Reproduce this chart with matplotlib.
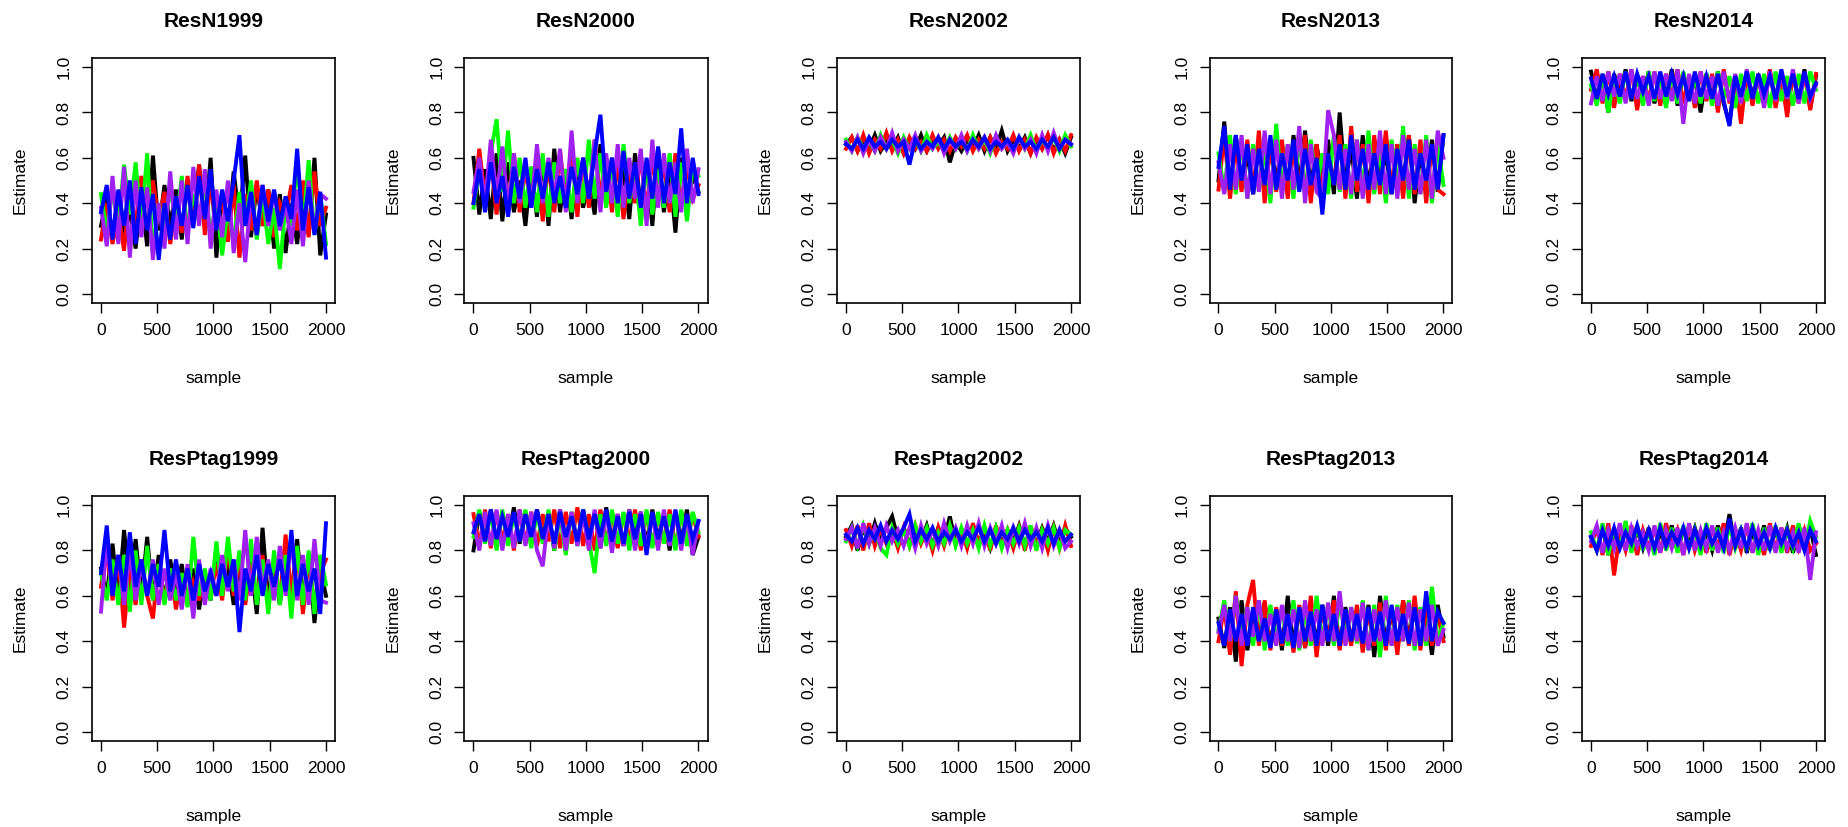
import numpy as np
import matplotlib
matplotlib.use("Agg")
import matplotlib.pyplot as plt

plt.rcParams['font.family'] = ['Liberation Sans', 'DejaVu Sans']

# chain colours, drawn in this order (blue ends up on top)
chain_colors = ['black', 'red', '#00FF00', '#A020F0', 'blue']
n_samples = 2000

# values (black, red, green, purple, blue), 40 per chain
resn1999 = [
    [0.30,0.42,0.25,0.45,0.23,0.38,0.20,0.44,0.21,0.61, 0.28,0.48,0.30,0.46,0.24,0.50,0.32,0.57,0.30,0.60,
     0.16,0.45,0.28,0.54,0.32,0.61,0.25,0.48,0.30,0.46, 0.20,0.44,0.18,0.40,0.22,0.45,0.26,0.60,0.17,0.35],
    [0.24,0.40,0.22,0.36,0.19,0.47,0.30,0.52,0.38,0.50, 0.33,0.45,0.22,0.40,0.27,0.52,0.30,0.57,0.26,0.49,
     0.30,0.43,0.23,0.48,0.16,0.44,0.28,0.50,0.30,0.46, 0.25,0.40,0.34,0.48,0.28,0.50,0.25,0.54,0.30,0.38],
    [0.44,0.27,0.46,0.30,0.57,0.35,0.58,0.30,0.62,0.18, 0.40,0.26,0.48,0.30,0.52,0.28,0.44,0.32,0.50,0.25,
     0.42,0.17,0.38,0.22,0.45,0.30,0.50,0.24,0.44,0.22, 0.38,0.11,0.40,0.30,0.58,0.28,0.59,0.26,0.44,0.22],
    [0.38,0.21,0.52,0.22,0.56,0.16,0.50,0.25,0.47,0.15, 0.40,0.20,0.54,0.24,0.50,0.22,0.56,0.30,0.55,0.20,
     0.46,0.25,0.50,0.18,0.40,0.14,0.44,0.26,0.48,0.30, 0.45,0.28,0.40,0.22,0.46,0.21,0.50,0.27,0.44,0.42],
    [0.36,0.48,0.24,0.46,0.30,0.50,0.22,0.47,0.28,0.44, 0.15,0.40,0.24,0.43,0.30,0.48,0.29,0.52,0.33,0.55,
     0.28,0.46,0.32,0.50,0.70,0.30,0.45,0.26,0.48,0.32, 0.46,0.30,0.43,0.33,0.64,0.28,0.47,0.26,0.45,0.16],
]
resn2000 = [
    [0.60,0.35,0.55,0.33,0.62,0.32,0.58,0.36,0.50,0.30, 0.56,0.34,0.60,0.30,0.64,0.36,0.55,0.33,0.58,0.38,
     0.50,0.35,0.66,0.40,0.60,0.36,0.55,0.33,0.62,0.38, 0.58,0.30,0.64,0.36,0.55,0.27,0.60,0.40,0.52,0.45],
    [0.40,0.64,0.42,0.60,0.35,0.58,0.38,0.62,0.36,0.55, 0.40,0.60,0.32,0.58,0.36,0.63,0.40,0.66,0.34,0.60,
     0.38,0.68,0.42,0.60,0.36,0.58,0.33,0.55,0.40,0.62, 0.36,0.60,0.42,0.58,0.36,0.62,0.40,0.56,0.42,0.48],
    [0.38,0.55,0.40,0.62,0.77,0.45,0.72,0.40,0.60,0.38, 0.56,0.36,0.62,0.34,0.58,0.40,0.55,0.36,0.60,0.40,
     0.68,0.42,0.62,0.38,0.58,0.34,0.66,0.40,0.55,0.30, 0.58,0.35,0.55,0.38,0.62,0.34,0.58,0.32,0.56,0.52],
    [0.45,0.60,0.40,0.68,0.42,0.65,0.37,0.62,0.40,0.58, 0.38,0.66,0.40,0.60,0.42,0.64,0.36,0.72,0.40,0.60,
     0.42,0.68,0.36,0.62,0.40,0.66,0.38,0.60,0.42,0.64, 0.30,0.68,0.38,0.62,0.40,0.58,0.36,0.64,0.40,0.55],
    [0.40,0.55,0.36,0.58,0.40,0.52,0.34,0.56,0.42,0.60, 0.38,0.55,0.42,0.58,0.40,0.52,0.38,0.56,0.44,0.60,
     0.42,0.62,0.79,0.45,0.60,0.40,0.63,0.42,0.58,0.38, 0.60,0.42,0.65,0.40,0.58,0.44,0.73,0.40,0.60,0.44],
]
resn2002 = [
    [0.66,0.69,0.63,0.68,0.64,0.70,0.63,0.67,0.64,0.69, 0.62,0.68,0.64,0.70,0.63,0.67,0.65,0.69,0.58,0.67,
     0.63,0.68,0.64,0.70,0.63,0.69,0.64,0.72,0.63,0.68, 0.64,0.69,0.62,0.68,0.64,0.70,0.63,0.68,0.62,0.69],
    [0.64,0.69,0.63,0.70,0.62,0.68,0.64,0.71,0.63,0.68, 0.62,0.69,0.64,0.67,0.63,0.70,0.64,0.68,0.63,0.69,
     0.65,0.70,0.63,0.68,0.64,0.69,0.62,0.67,0.64,0.70, 0.63,0.68,0.62,0.69,0.64,0.70,0.62,0.68,0.63,0.70],
    [0.68,0.63,0.69,0.64,0.67,0.63,0.70,0.64,0.68,0.62, 0.69,0.64,0.68,0.63,0.70,0.64,0.67,0.63,0.69,0.64,
     0.68,0.63,0.70,0.64,0.68,0.62,0.69,0.64,0.67,0.63, 0.69,0.64,0.70,0.63,0.68,0.64,0.69,0.63,0.70,0.65],
    [0.67,0.63,0.69,0.62,0.68,0.63,0.69,0.64,0.71,0.63, 0.68,0.64,0.70,0.63,0.67,0.64,0.69,0.62,0.68,0.64,
     0.70,0.63,0.68,0.64,0.69,0.63,0.70,0.64,0.67,0.62, 0.69,0.64,0.68,0.62,0.70,0.63,0.71,0.64,0.68,0.66],
    [0.66,0.64,0.68,0.64,0.69,0.65,0.67,0.64,0.68,0.65, 0.67,0.57,0.68,0.64,0.67,0.65,0.69,0.64,0.68,0.65,
     0.67,0.64,0.68,0.65,0.69,0.64,0.67,0.65,0.68,0.64, 0.69,0.65,0.67,0.64,0.68,0.65,0.69,0.64,0.68,0.66],
]
resn2013 = [
    [0.50,0.76,0.45,0.70,0.48,0.62,0.44,0.68,0.46,0.64, 0.50,0.66,0.44,0.70,0.48,0.72,0.46,0.66,0.50,0.68,
     0.44,0.80,0.48,0.65,0.42,0.70,0.46,0.68,0.50,0.62, 0.44,0.66,0.48,0.70,0.40,0.62,0.46,0.68,0.45,0.70],
    [0.46,0.70,0.42,0.66,0.45,0.68,0.44,0.72,0.40,0.66, 0.45,0.68,0.42,0.64,0.46,0.70,0.40,0.66,0.44,0.62,
     0.48,0.70,0.42,0.74,0.45,0.66,0.40,0.70,0.44,0.72, 0.46,0.66,0.42,0.70,0.44,0.68,0.40,0.66,0.46,0.44],
    [0.62,0.45,0.70,0.44,0.68,0.42,0.66,0.46,0.64,0.40, 0.75,0.46,0.66,0.42,0.70,0.44,0.68,0.46,0.62,0.44,
     0.70,0.45,0.66,0.42,0.68,0.46,0.72,0.44,0.64,0.40, 0.68,0.46,0.74,0.42,0.66,0.44,0.70,0.40,0.66,0.48],
    [0.58,0.44,0.66,0.46,0.70,0.42,0.64,0.45,0.72,0.44, 0.68,0.42,0.66,0.46,0.74,0.40,0.66,0.45,0.42,0.81,
     0.70,0.46,0.64,0.44,0.68,0.42,0.66,0.46,0.72,0.44, 0.66,0.42,0.70,0.46,0.64,0.44,0.68,0.42,0.72,0.60],
    [0.56,0.74,0.46,0.70,0.50,0.66,0.44,0.64,0.48,0.70, 0.46,0.62,0.50,0.68,0.45,0.64,0.48,0.60,0.35,0.62,
     0.48,0.66,0.46,0.70,0.50,0.64,0.46,0.62,0.48,0.66, 0.44,0.64,0.50,0.68,0.46,0.62,0.50,0.66,0.46,0.70],
]
resn2014 = [
    [0.98,0.86,0.96,0.80,0.97,0.88,0.99,0.85,0.95,0.87, 0.98,0.84,0.96,0.86,0.99,0.83,0.97,0.88,0.95,0.80,
     0.97,0.86,0.98,0.84,0.75,0.96,0.85,0.97,0.88,0.95, 0.84,0.98,0.86,0.96,0.80,0.97,0.85,0.99,0.82,0.96],
    [0.90,0.99,0.84,0.98,0.82,0.97,0.86,0.99,0.81,0.96, 0.85,0.98,0.83,0.97,0.87,0.99,0.84,0.96,0.82,0.98,
     0.85,0.97,0.80,0.99,0.84,0.96,0.75,0.98,0.83,0.97, 0.86,0.99,0.82,0.96,0.78,0.98,0.84,0.97,0.81,0.97],
    [0.92,0.83,0.97,0.80,0.96,0.84,0.98,0.86,0.97,0.83, 0.98,0.85,0.96,0.82,0.97,0.84,0.98,0.85,0.96,0.84,
     0.97,0.83,0.98,0.86,0.96,0.82,0.97,0.85,0.98,0.84, 0.97,0.82,0.98,0.85,0.96,0.83,0.97,0.84,0.98,0.90],
    [0.84,0.96,0.85,0.98,0.87,0.97,0.84,0.99,0.86,0.96, 0.83,0.98,0.86,0.97,0.85,0.99,0.75,0.97,0.84,0.98,
     0.86,0.96,0.83,0.98,0.85,0.97,0.84,0.99,0.86,0.96, 0.82,0.98,0.85,0.97,0.86,0.99,0.84,0.97,0.86,0.92],
    [0.95,0.86,0.97,0.88,0.96,0.87,0.98,0.86,0.97,0.89, 0.96,0.86,0.98,0.87,0.97,0.88,0.96,0.85,0.98,0.87,
     0.96,0.86,0.97,0.85,0.74,0.96,0.87,0.98,0.86,0.97, 0.88,0.96,0.86,0.99,0.87,0.97,0.86,0.98,0.87,0.93],
]
resptag1999 = [
    [0.72,0.60,0.83,0.58,0.89,0.62,0.85,0.60,0.86,0.58, 0.78,0.57,0.76,0.60,0.74,0.56,0.72,0.54,0.70,0.58,
     0.78,0.60,0.74,0.56,0.72,0.58,0.75,0.52,0.90,0.58, 0.74,0.56,0.80,0.60,0.85,0.58,0.78,0.48,0.72,0.60],
    [0.64,0.80,0.58,0.77,0.46,0.72,0.56,0.76,0.60,0.50, 0.74,0.58,0.72,0.54,0.70,0.56,0.66,0.58,0.70,0.60,
     0.74,0.58,0.82,0.60,0.76,0.56,0.74,0.58,0.78,0.55, 0.72,0.58,0.87,0.60,0.80,0.52,0.76,0.56,0.70,0.76],
    [0.70,0.58,0.76,0.56,0.78,0.53,0.80,0.56,0.82,0.58, 0.74,0.56,0.72,0.58,0.70,0.55,0.86,0.60,0.72,0.58,
     0.84,0.60,0.86,0.62,0.80,0.58,0.85,0.56,0.76,0.52, 0.80,0.56,0.78,0.50,0.82,0.56,0.80,0.52,0.78,0.65],
    [0.53,0.84,0.60,0.78,0.56,0.80,0.58,0.74,0.60,0.76, 0.56,0.72,0.58,0.70,0.54,0.74,0.50,0.76,0.56,0.72,
     0.60,0.78,0.62,0.76,0.58,0.89,0.60,0.86,0.62,0.76, 0.58,0.82,0.60,0.86,0.58,0.78,0.56,0.85,0.58,0.57],
    [0.70,0.91,0.60,0.78,0.62,0.88,0.64,0.76,0.60,0.74, 0.64,0.89,0.62,0.76,0.60,0.72,0.58,0.74,0.62,0.70,
     0.60,0.74,0.64,0.76,0.44,0.72,0.62,0.78,0.60,0.74, 0.64,0.76,0.62,0.89,0.60,0.74,0.62,0.72,0.52,0.92],
]
resptag2000 = [
    [0.80,0.97,0.84,0.98,0.82,0.96,0.85,0.99,0.83,0.97, 0.84,0.98,0.86,0.97,0.80,0.98,0.84,0.96,0.83,0.98,
     0.85,0.97,0.81,0.99,0.84,0.96,0.82,0.98,0.86,0.97, 0.83,0.98,0.85,0.96,0.80,0.97,0.84,0.98,0.78,0.86],
    [0.96,0.82,0.98,0.81,0.97,0.84,0.96,0.80,0.98,0.83, 0.97,0.82,0.96,0.84,0.98,0.81,0.97,0.83,0.99,0.82,
     0.96,0.80,0.98,0.83,0.97,0.81,0.96,0.84,0.98,0.80, 0.97,0.82,0.96,0.83,0.98,0.81,0.97,0.83,0.96,0.86],
    [0.86,0.98,0.83,0.97,0.80,0.98,0.82,0.96,0.84,0.98, 0.81,0.97,0.83,0.98,0.80,0.96,0.78,0.97,0.82,0.98,
     0.84,0.70,0.96,0.82,0.98,0.83,0.97,0.80,0.96,0.82, 0.98,0.81,0.97,0.83,0.96,0.80,0.98,0.82,0.97,0.88],
    [0.92,0.80,0.97,0.82,0.98,0.80,0.96,0.81,0.98,0.82, 0.97,0.80,0.73,0.96,0.81,0.98,0.80,0.97,0.82,0.96,
     0.80,0.98,0.81,0.97,0.79,0.96,0.82,0.98,0.80,0.97, 0.81,0.96,0.80,0.98,0.82,0.97,0.80,0.96,0.78,0.93],
    [0.88,0.96,0.84,0.98,0.85,0.95,0.86,0.97,0.84,0.96, 0.86,0.98,0.85,0.96,0.83,0.97,0.86,0.95,0.84,0.98,
     0.85,0.96,0.86,0.98,0.84,0.95,0.83,0.97,0.85,0.96, 0.78,0.97,0.85,0.95,0.84,0.98,0.83,0.96,0.85,0.93],
]
resptag2002 = [
    [0.86,0.91,0.80,0.90,0.83,0.92,0.84,0.90,0.95,0.85, 0.90,0.83,0.89,0.84,0.91,0.82,0.90,0.84,0.95,0.83,
     0.89,0.82,0.90,0.84,0.88,0.81,0.90,0.83,0.89,0.84, 0.91,0.82,0.89,0.83,0.90,0.84,0.91,0.83,0.90,0.86],
    [0.89,0.82,0.91,0.80,0.92,0.82,0.90,0.83,0.89,0.81, 0.90,0.82,0.91,0.83,0.89,0.80,0.90,0.82,0.91,0.83,
     0.89,0.81,0.92,0.83,0.90,0.80,0.91,0.82,0.89,0.81, 0.90,0.80,0.91,0.82,0.89,0.80,0.90,0.81,0.91,0.82],
    [0.84,0.90,0.82,0.91,0.83,0.89,0.81,0.78,0.90,0.83, 0.89,0.82,0.91,0.84,0.90,0.82,0.88,0.83,0.91,0.82,
     0.90,0.83,0.89,0.81,0.91,0.82,0.90,0.81,0.89,0.83, 0.90,0.82,0.91,0.80,0.89,0.83,0.90,0.81,0.89,0.87],
    [0.85,0.90,0.81,0.92,0.83,0.90,0.82,0.91,0.84,0.89, 0.82,0.90,0.81,0.91,0.83,0.89,0.82,0.92,0.84,0.90,
     0.82,0.91,0.83,0.92,0.82,0.90,0.83,0.91,0.81,0.90, 0.83,0.92,0.82,0.90,0.81,0.91,0.82,0.89,0.81,0.84],
    [0.87,0.84,0.90,0.83,0.89,0.85,0.91,0.84,0.89,0.85, 0.90,0.96,0.84,0.89,0.85,0.90,0.84,0.88,0.85,0.89,
     0.84,0.88,0.85,0.90,0.84,0.89,0.83,0.88,0.85,0.90, 0.84,0.89,0.85,0.88,0.84,0.90,0.83,0.89,0.84,0.87],
]
resptag2013 = [
    [0.50,0.37,0.55,0.31,0.58,0.36,0.52,0.40,0.57,0.38, 0.54,0.36,0.60,0.38,0.55,0.37,0.52,0.40,0.56,0.38,
     0.60,0.37,0.55,0.40,0.52,0.38,0.56,0.33,0.60,0.38, 0.54,0.36,0.58,0.40,0.55,0.38,0.52,0.34,0.56,0.42],
    [0.40,0.55,0.34,0.62,0.29,0.56,0.67,0.38,0.58,0.36, 0.55,0.38,0.52,0.35,0.56,0.37,0.60,0.33,0.55,0.40,
     0.58,0.36,0.52,0.38,0.56,0.35,0.54,0.38,0.57,0.36, 0.55,0.34,0.58,0.38,0.60,0.36,0.55,0.38,0.52,0.40],
    [0.45,0.58,0.40,0.60,0.42,0.55,0.38,0.58,0.36,0.56, 0.40,0.55,0.38,0.58,0.36,0.54,0.38,0.60,0.40,0.56,
     0.38,0.58,0.42,0.55,0.39,0.58,0.36,0.56,0.33,0.60, 0.38,0.56,0.40,0.58,0.36,0.55,0.38,0.64,0.40,0.48],
    [0.44,0.56,0.40,0.60,0.38,0.55,0.42,0.58,0.40,0.52, 0.38,0.56,0.40,0.54,0.37,0.58,0.40,0.54,0.38,0.57,
     0.40,0.62,0.38,0.55,0.40,0.57,0.36,0.54,0.40,0.58, 0.38,0.55,0.40,0.57,0.38,0.54,0.40,0.56,0.38,0.45],
    [0.48,0.38,0.54,0.40,0.52,0.38,0.55,0.40,0.50,0.37, 0.54,0.39,0.52,0.37,0.55,0.40,0.53,0.38,0.56,0.40,
     0.52,0.38,0.54,0.40,0.52,0.39,0.55,0.40,0.53,0.38, 0.56,0.40,0.52,0.39,0.55,0.38,0.62,0.40,0.53,0.48],
]
resptag2014 = [
    [0.86,0.80,0.90,0.78,0.88,0.82,0.91,0.80,0.89,0.81, 0.90,0.79,0.88,0.82,0.91,0.80,0.89,0.83,0.90,0.81,
     0.88,0.80,0.91,0.82,0.96,0.81,0.90,0.79,0.88,0.82, 0.91,0.80,0.89,0.82,0.90,0.79,0.88,0.81,0.90,0.78],
    [0.82,0.90,0.78,0.92,0.69,0.88,0.80,0.91,0.78,0.89, 0.81,0.90,0.79,0.92,0.82,0.89,0.78,0.91,0.80,0.88,
     0.79,0.90,0.81,0.92,0.78,0.88,0.80,0.91,0.79,0.89, 0.78,0.92,0.80,0.90,0.79,0.91,0.81,0.89,0.80,0.83],
    [0.88,0.80,0.92,0.78,0.90,0.81,0.93,0.79,0.91,0.80, 0.89,0.78,0.92,0.80,0.90,0.79,0.91,0.81,0.89,0.78,
     0.92,0.80,0.90,0.79,0.91,0.81,0.89,0.80,0.92,0.78, 0.90,0.80,0.91,0.79,0.89,0.81,0.92,0.80,0.93,0.86],
    [0.84,0.91,0.79,0.89,0.81,0.92,0.80,0.90,0.82,0.88, 0.80,0.91,0.79,0.89,0.81,0.90,0.78,0.92,0.80,0.89,
     0.81,0.91,0.79,0.88,0.80,0.90,0.81,0.92,0.79,0.89, 0.80,0.91,0.79,0.90,0.81,0.88,0.79,0.90,0.67,0.88],
    [0.86,0.80,0.89,0.82,0.90,0.81,0.88,0.83,0.91,0.82, 0.89,0.81,0.90,0.82,0.88,0.83,0.90,0.81,0.89,0.82,
     0.90,0.83,0.88,0.81,0.94,0.82,0.89,0.81,0.90,0.82, 0.88,0.81,0.90,0.83,0.89,0.82,0.88,0.80,0.89,0.84],
]

titles = ['ResN1999', 'ResN2000', 'ResN2002', 'ResN2013', 'ResN2014',
          'ResPtag1999', 'ResPtag2000', 'ResPtag2002', 'ResPtag2013', 'ResPtag2014']
panels = [resn1999, resn2000, resn2002, resn2013, resn2014,
          resptag1999, resptag2000, resptag2002, resptag2013, resptag2014]

W, H = 1848, 827
fig = plt.figure(figsize=(W / 100, H / 100), dpi=100)

for k, (title, chains) in enumerate(zip(titles, panels)):
    row, col = divmod(k, 5)
    left = 92 + 372.5 * col
    top = 58 if row == 0 else 496
    ax = fig.add_axes([left / W, 1 - (top + 245) / H, 243 / W, 245 / H])

    for vals, c in zip(chains, chain_colors):
        x = np.linspace(1, n_samples, len(vals))
        ax.plot(x, vals, color=c, lw=2.8, solid_joinstyle='miter')

    ax.set_xlim(1 - 0.04 * n_samples, n_samples + 0.04 * n_samples)
    ax.set_ylim(-0.04, 1.04)
    ax.set_xticks([0, 500, 1000, 1500, 2000])
    ax.set_yticks([0.0, 0.2, 0.4, 0.6, 0.8, 1.0])
    ax.set_yticklabels(['0.0', '0.2', '0.4', '0.6', '0.8', '1.0'], rotation=90, va='center')
    ax.tick_params(direction='out', length=7.5, width=1.0, labelsize=12.5, pad=7)
    for s in ax.spines.values():
        s.set_linewidth(1.2)

    ax.set_title(title, fontsize=15, fontweight='bold', pad=22)
    ax.set_xlabel('sample', fontsize=12.5)
    ax.set_ylabel('Estimate', fontsize=12.5)
    ax.xaxis.set_label_coords(0.5, -0.31)
    ax.xaxis.label.set_va('center')
    ax.yaxis.set_label_coords(-0.295, 0.5)
    ax.yaxis.label.set_va('center')

fig.savefig('out.png', dpi=100)
